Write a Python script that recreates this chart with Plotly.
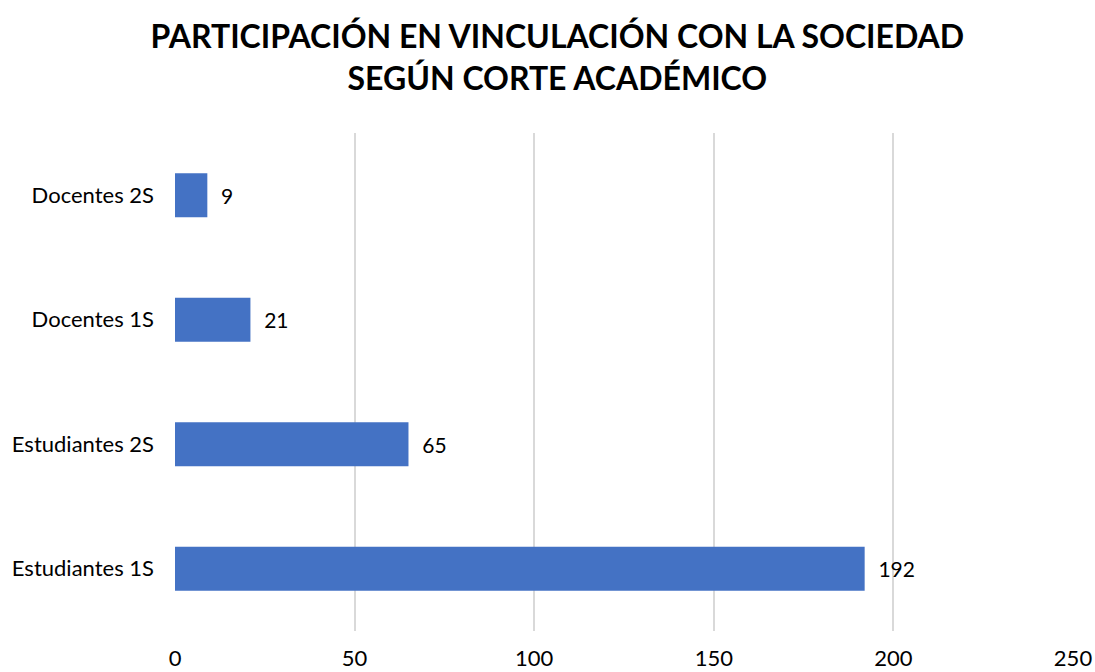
import plotly.graph_objects as go

categorias = ["Estudiantes 1S", "Estudiantes 2S", "Docentes 1S", "Docentes 2S"]
valores = [192, 65, 21, 9]
ticks_x = [0, 50, 100, 150, 200, 250]

titulo = "<b>PARTICIPACIÓN EN VINCULACIÓN CON LA SOCIEDAD<br>SEGÚN CORTE ACADÉMICO</b>"

fig = go.Figure()
fig.add_trace(go.Bar(
    x=valores,
    y=categorias,
    orientation="h",
    marker=dict(color="#4472C4", line=dict(width=0)),
    text=[f"\u00a0\u00a0{v}" for v in valores],
    textposition="outside",
    textfont=dict(size=21, color="#000000", family="Lato"),
    cliponaxis=False,
    hoverinfo="x+y",
))

fig.update_layout(
    width=1095,
    height=672,
    margin={'l': 175, 'r': 22, 't': 133, 'b': 41, 'autoexpand': False},
    plot_bgcolor="white",
    paper_bgcolor="white",
    bargap=0.645,
    showlegend=False,
    font=dict(family="Lato", size=22, color="#000000"),
    title=dict(
        text=titulo,
        x=0.509,
        xanchor="center",
        y=0.928,
        yanchor="top",
        font=dict(family="Lato", size=32, color="#000000"),
    ),
    xaxis=dict(
        range=[0, 250],
        tickvals=ticks_x,
        showgrid=True,
        gridcolor="#D9D9D9",
        gridwidth=2,
        zeroline=False,
        showline=False,
        ticks="",
        automargin=False,
        ticklabelstandoff=12,
        tickfont=dict(size=22, family="Lato"),
    ),
    yaxis=dict(
        categoryorder="array",
        categoryarray=categorias,
        showgrid=False,
        zeroline=False,
        showline=False,
        ticks="",
        automargin=False,
        ticklabelstandoff=20,
        tickfont=dict(size=22, family="Lato"),
    ),
)

# drop the default body margin so the figure sits at the page corner
fig.write_html("out.html", config={"displayModeBar": False},
               post_script="document.body.style.margin='0';")
